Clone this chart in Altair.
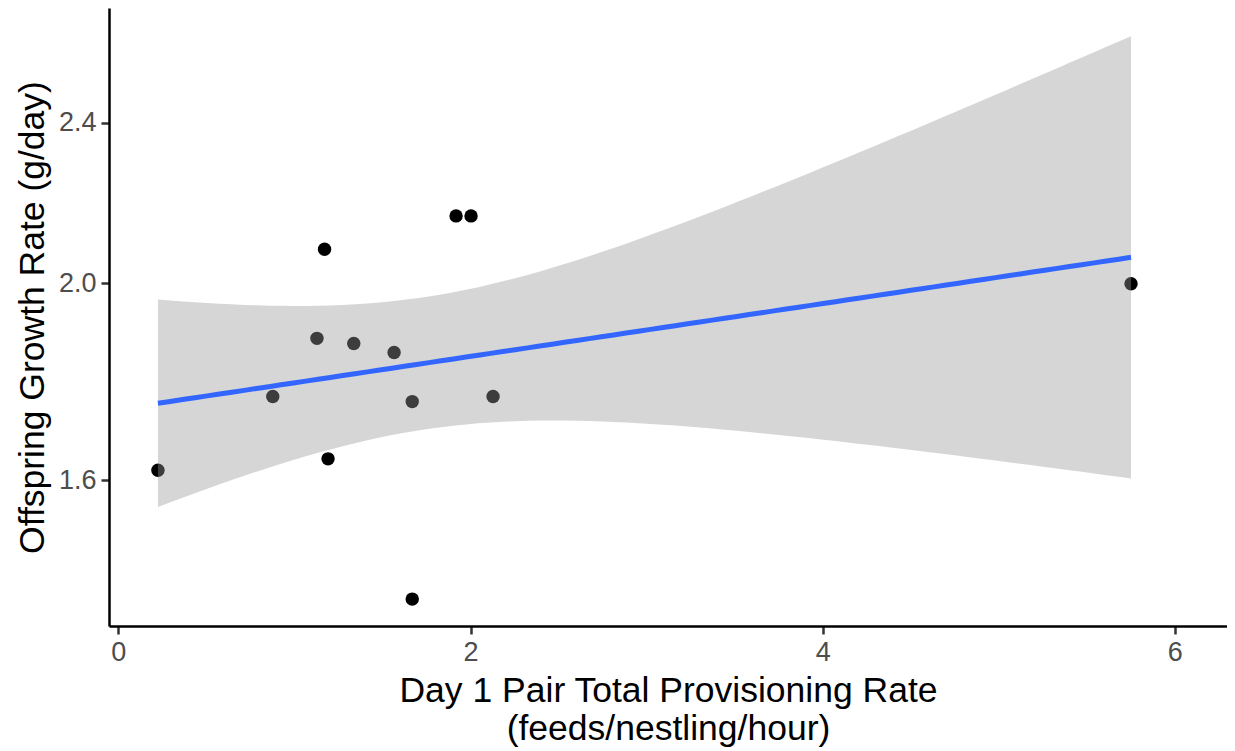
import altair as alt
import numpy as np
import pandas as pd

# Day 1 pair total provisioning rate (feeds/nestling/hour)
provisioning = [0.225, 0.877, 1.128, 1.171, 1.191, 1.337, 1.566, 1.669, 1.669, 1.918, 2.003, 2.128, 5.751]
# Offspring growth rate (g/day)
growth = [1.618, 1.759, 1.879, 2.079, 1.639, 1.868, 1.849, 1.749, 1.398, 2.159, 2.159, 1.759, 1.999]

x_ticks = [0, 2, 4, 6]
y_ticks = [1.6, 2.0, 2.4]
x_title = ["Day 1 Pair Total Provisioning Rate", "(feeds/nestling/hour)"]
y_title = "Offspring Growth Rate (g/day)"

pts = pd.DataFrame({"x": provisioning, "y": growth})

# linear fit on the log10 scale with 95% confidence band (like geom_smooth(method="lm"))
xv = np.array(provisioning)
ly = np.log10(np.array(growth))
n = len(xv)
b, a = np.polyfit(xv, ly, 1)
resid = ly - (a + b * xv)
s = np.sqrt(np.sum(resid ** 2) / (n - 2))
t_crit = 2.200985  # t(0.975, df=11)
grid = np.linspace(xv.min(), xv.max(), 80)
xm = xv.mean()
sxx = np.sum((xv - xm) ** 2)
se = s * np.sqrt(1.0 / n + (grid - xm) ** 2 / sxx)
fit = a + b * grid
band = pd.DataFrame({
    "x": grid,
    "fit": 10 ** fit,
    "lo": 10 ** (fit - t_crit * se),
    "hi": 10 ** (fit + t_crit * se),
})

FONT = "Liberation Sans"
xscale = alt.Scale(domain=[-0.053, 6.296], nice=False, zero=False)
yscale = alt.Scale(type="log", domain=[1.356, 2.733], nice=False, zero=False)

xaxis = alt.Axis(
    values=x_ticks, format="d", grid=False, title=x_title,
    labelFontSize=27, labelColor="#4D4D4D", labelPadding=5, labelFont=FONT,
    tickColor="#333333", tickSize=8, tickWidth=2.5,
    domainColor="black", domainWidth=2.5,
    titleFontSize=35.5, titleColor="black", titleFontWeight="normal", titleFont=FONT,
    titleLineHeight=38, titlePadding=8,
)
yaxis = alt.Axis(
    values=y_ticks, format=".1f", grid=False, title=y_title,
    labelFontSize=27, labelColor="#4D4D4D", labelPadding=5, labelFont=FONT,
    tickColor="#333333", tickSize=8, tickWidth=2.5,
    domainColor="black", domainWidth=2.5,
    titleFontSize=35.5, titleColor="black", titleFontWeight="normal", titleFont=FONT,
    titlePadding=8,
)

points = alt.Chart(pts).mark_circle(size=180, color="black", opacity=1).encode(
    x=alt.X("x:Q", scale=xscale, axis=xaxis),
    y=alt.Y("y:Q", scale=yscale, axis=yaxis),
)

ribbon = alt.Chart(band).mark_area(color="#999999", opacity=0.4).encode(
    x=alt.X("x:Q", scale=xscale, axis=xaxis),
    y=alt.Y("lo:Q", scale=yscale, axis=yaxis),
    y2="hi:Q",
)

line = alt.Chart(band).mark_line(color="#3366FF", strokeWidth=5).encode(
    x=alt.X("x:Q", scale=xscale, axis=xaxis),
    y=alt.Y("fit:Q", scale=yscale, axis=yaxis),
)

chart = alt.layer(points, ribbon, line).properties(
    width=1118,
    height=618,
    autosize=alt.AutoSizeParams(type="none"),
    padding={"left": 101, "top": 0, "right": 0, "bottom": 125},
).configure(font=FONT).configure_view(stroke=None, strokeWidth=0)

chart.save("out.html", embed_options={"renderer": "svg", "actions": False})
